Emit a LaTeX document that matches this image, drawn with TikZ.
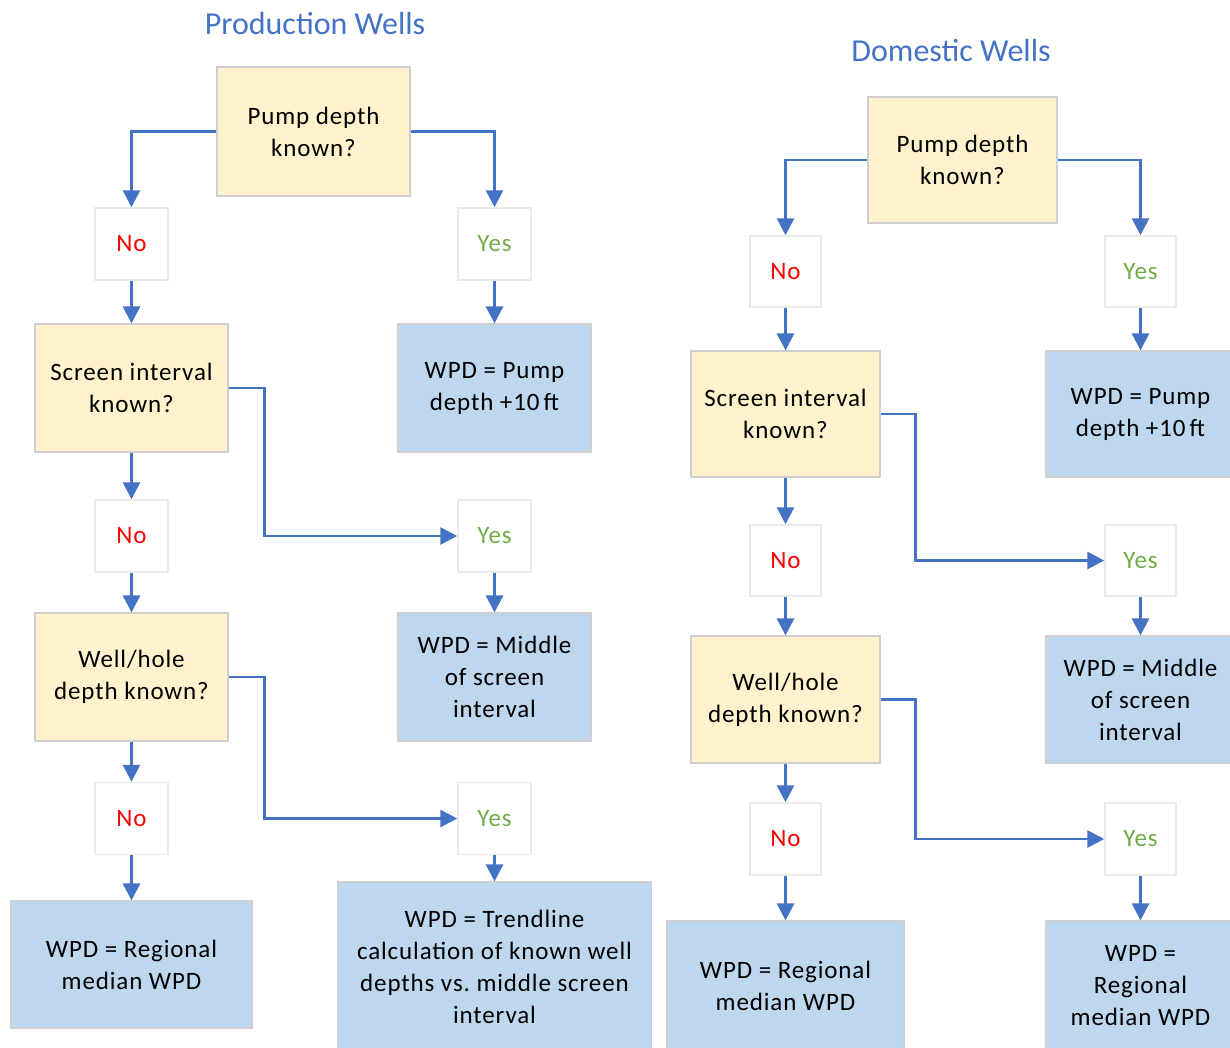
\documentclass[tikz,border=0pt]{standalone}
\usepackage{fontspec}
\setmainfont{Carlito}[LetterSpace=3.5]
\newfontfamily\titlefont{Carlito}
\usetikzlibrary{arrows.meta}
\frenchspacing
\definecolor{qfill}{HTML}{FFF2CC}
\definecolor{rfill}{HTML}{BDD7EE}
\definecolor{boxline}{HTML}{CFCFCF}
\definecolor{lblline}{HTML}{E6EDE3}
\definecolor{arrblue}{HTML}{4472C4}
\definecolor{nored}{HTML}{FF0000}
\definecolor{yesgreen}{HTML}{70AD47}
\tikzset{
  base/.style={rectangle, inner sep=0pt, align=center, font=\fontsize{25}{32}\selectfont},
  qbox/.style={base, fill=qfill, draw=boxline, line width=1.2pt},
  rbox/.style={base, fill=rfill, draw=boxline, line width=1.2pt},
  lbox/.style={base, fill=white, draw=lblline, line width=1.5pt, minimum width=73pt, minimum height=72pt},
  notxt/.style={lbox, text=nored},
  yestxt/.style={lbox, text=yesgreen},
  arr/.style={draw=arrblue, line width=2.8pt, -{Triangle[width=17pt,length=17pt]}},
  ttl/.style={text=arrblue, font=\titlefont\fontsize{32}{38}\selectfont, inner sep=0pt}
}
\begin{document}
\begin{tikzpicture}[x=1pt,y=-1pt]
\useasboundingbox (0,0) rectangle (1230,1047);
% Production wells
\node[ttl] (t1) at (315,24) {Production Wells};
\node[qbox, minimum width=193pt, minimum height=129pt] (p1) at (313.5,131.5) {Pump depth\\known?};
\node[notxt] (n1) at (131.5,244) {No};
\node[yestxt] (y1) at (494.5,244) {Yes};
\node[qbox, minimum width=193pt, minimum height=128pt] (s1) at (131.5,388) {Screen interval\\known?};
\node[rbox, minimum width=193pt, minimum height=128pt] (r1) at (494.5,388) {WPD = Pump\\depth +10\,ft};
\node[notxt] (n2) at (131.5,536) {No};
\node[yestxt] (y2) at (494.5,536) {Yes};
\node[qbox, minimum width=193pt, minimum height=128pt] (w1) at (131.5,677) {Well/hole\\depth known?};
\node[rbox, minimum width=193pt, minimum height=128pt] (r2) at (494.5,677) {WPD = Middle\\of screen\\interval};
\node[notxt] (n3) at (131.5,818.5) {No};
\node[yestxt] (y3) at (494.5,818.5) {Yes};
\node[rbox, minimum width=241pt, minimum height=127pt] (r3) at (131.5,964.5) {WPD = Regional\\median WPD};
\node[rbox, minimum width=314pt, minimum height=170pt] (r4) at (494.5,967) {WPD = Trendline\\calculation of known well\\depths vs. middle screen\\interval};
\draw[arr] (p1.west) -| (n1.north);
\draw[arr] (p1.east) -| (y1.north);
\draw[arr] (n1.south) -- (s1.north);
\draw[arr] (y1.south) -- (r1.north);
\draw[arr] (s1.south) -- (n2.north);
\draw[arr] (s1.east) -- ++(36,0) |- (y2.west);
\draw[arr] (n2.south) -- (w1.north);
\draw[arr] (y2.south) -- (r2.north);
\draw[arr] (w1.south) -- (n3.north);
\draw[arr] (w1.east) -- ++(36,0) |- (y3.west);
\draw[arr] (n3.south) -- (r3.north);
\draw[arr] (y3.south) -- (r4.north);
% Domestic wells
\node[ttl] (t2) at (951,51) {Domestic Wells};
\node[qbox, minimum width=189pt, minimum height=126pt] (p2) at (962.5,160) {Pump depth\\known?};
\node[notxt, minimum width=71pt, minimum height=71pt] (n4) at (785.5,271.5) {No};
\node[yestxt, minimum width=71pt, minimum height=71pt] (y4) at (1140.5,271.5) {Yes};
\node[qbox, minimum width=189pt, minimum height=126pt] (s2) at (785.5,414) {Screen interval\\known?};
\node[rbox, minimum width=189pt, minimum height=126pt] (r5) at (1140.5,414) {WPD = Pump\\depth +10\,ft};
\node[notxt, minimum width=71pt, minimum height=71pt] (n5) at (785.5,560.5) {No};
\node[yestxt, minimum width=71pt, minimum height=71pt] (y5) at (1140.5,560.5) {Yes};
\node[qbox, minimum width=189pt, minimum height=127pt] (w2) at (785.5,699.5) {Well/hole\\depth known?};
\node[rbox, minimum width=189pt, minimum height=127pt] (r6) at (1140.5,699.5) {WPD = Middle\\of screen\\interval};
\node[notxt, minimum width=71pt, minimum height=72pt] (n6) at (785.5,839) {No};
\node[yestxt, minimum width=71pt, minimum height=72pt] (y6) at (1140.5,839) {Yes};
\node[rbox, minimum width=237pt, minimum height=130pt] (r7) at (785.5,986) {WPD = Regional\\median WPD};
\node[rbox, minimum width=189pt, minimum height=130pt] (r8) at (1140.5,986) {WPD =\\Regional\\median WPD};
\draw[arr] (p2.west) -| (n4.north);
\draw[arr] (p2.east) -| (y4.north);
\draw[arr] (n4.south) -- (s2.north);
\draw[arr] (y4.south) -- (r5.north);
\draw[arr] (s2.south) -- (n5.north);
\draw[arr] (s2.east) -- ++(35,0) |- (y5.west);
\draw[arr] (n5.south) -- (w2.north);
\draw[arr] (y5.south) -- (r6.north);
\draw[arr] (w2.south) -- (n6.north);
\draw[arr] (w2.east) -- ++(35,0) |- (y6.west);
\draw[arr] (n6.south) -- (r7.north);
\draw[arr] (y6.south) -- (r8.north);
\end{tikzpicture}
\end{document}
